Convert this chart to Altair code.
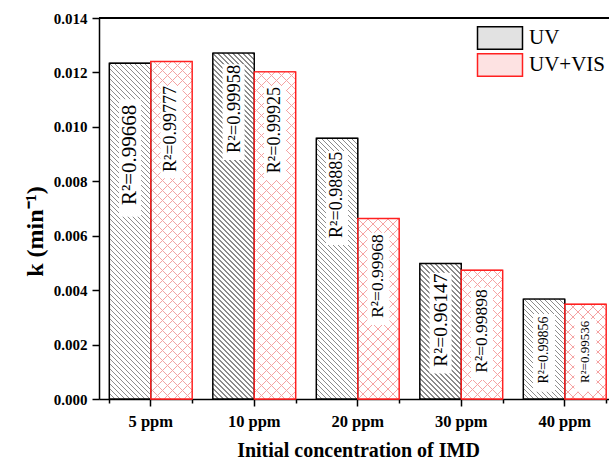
import altair as alt
import pandas as pd

# ---------------- data ----------------
conc = ["5 ppm", "10 ppm", "20 ppm", "30 ppm", "40 ppm"]
series = ["UV", "UV+VIS"]
k_uv = [0.01234, 0.01271, 0.00958, 0.00498, 0.00367]
k_vis = [0.01240, 0.01202, 0.00663, 0.00473, 0.00348]
r2_uv = ["0.99668", "0.99958", "0.98885", "0.96147", "0.99856"]
r2_vis = ["0.99777", "0.99925", "0.99968", "0.99898", "0.99536"]
# label centre and white label-box extent, in k units
lab_uv = [0.00897, 0.01066, 0.00750, 0.00290, 0.00180]
lab_vis = [0.00992, 0.00988, 0.00452, 0.00250, 0.00173]
box_hi_uv = [0.01101, 0.01230, 0.00911, 0.00464, 0.00312]
box_lo_uv = [0.00670, 0.00878, 0.00566, 0.00094, 0.00027]
box_hi_vis = [0.01150, 0.01150, 0.00611, 0.00409, 0.00294]
box_lo_vis = [0.00811, 0.00805, 0.00272, 0.00070, 0.00027]
fs_uv = [21, 18.5, 18, 19.5, 14]
fs_vis = [18, 18, 17.5, 17.5, 13]

rows = []
for i, c in enumerate(conc):
    rows.append(dict(conc=c, series="UV", k=k_uv[i], r2="R²=" + r2_uv[i],
                     lab=lab_uv[i], hi=box_hi_uv[i], lo=box_lo_uv[i], fs=fs_uv[i], idx=i))
    rows.append(dict(conc=c, series="UV+VIS", k=k_vis[i], r2="R²=" + r2_vis[i],
                     lab=lab_vis[i], hi=box_hi_vis[i], lo=box_lo_vis[i], fs=fs_vis[i], idx=i))
df = pd.DataFrame(rows)

# ---------------- layout ----------------
W, H = 510, 381
YMAX = 0.014
XR = 517.5                      # x range runs past the right edge (cut like the reference)
STEP = XR / 5
BARW = STEP * 0.8 / 2
SERIF = "Liberation Serif"

xenc = alt.X("conc:N", sort=conc,
             scale=alt.Scale(range=[0, XR], paddingInner=0.2, paddingOuter=0.1),
             axis=alt.Axis(title="Initial concentration of IMD", labelAngle=0,
                           labelFont=SERIF, labelFontWeight="bold", labelFontSize=16.5,
                           labelColor="black", labelPadding=7,
                           titleFont=SERIF, titleFontWeight="bold", titleFontSize=20,
                           titleColor="black", titlePadding=11, titleX=259,
                           tickSize=7, tickWidth=1.5, tickColor="black",
                           domainColor="black", domainWidth=1.5))
xoff = alt.XOffset("series:N", sort=series, scale=alt.Scale(paddingInner=0, paddingOuter=0))
yscale = alt.Scale(domain=[0, YMAX], nice=False)
yvals = [i / 1000 for i in range(0, 15)]
yenc = alt.Y("k:Q", scale=yscale,
             axis=alt.Axis(title="k (min⁻¹)", values=yvals,
                           labelExpr="round(datum.value*1000) % 2 ? '' : format(datum.value, '.3f')",
                           labelFont=SERIF, labelFontWeight="bold", labelFontSize=15,
                           labelColor="black", labelPadding=5,
                           titleFont=SERIF, titleFontWeight="bold", titleFontSize=24,
                           titleColor="black", titleX=-52, titleY=213,
                           tickSize={"condition": {"test": "round(datum.value*1000) % 2 == 1", "value": 4},
                                     "value": 7},
                           tickWidth=1.5, tickColor="black",
                           domainColor="black", domainWidth=1.5, grid=False))


def stripes(w, h, direction, period, lw, line, bg):
    L = w + h
    stops = []
    k = 0
    while k * period < L:
        a = k * period / L
        b = min((k * period + lw) / L, 1.0)
        stops += [{"offset": round(a, 5), "color": bg}, {"offset": round(a, 5), "color": line},
                  {"offset": round(b, 5), "color": line}, {"offset": round(b, 5), "color": bg}]
        k += 1
    stops.append({"offset": 1, "color": bg})
    c = L / (w * w + h * h)
    if direction == "back":
        x1, y1, x2, y2 = 0, 1, c * w, 1 - c * h
    else:
        x1, y1, x2, y2 = 0, 0, c * w, c * h
    return {"gradient": "linear", "stops": stops,
            "x1": x1, "y1": y1, "x2": round(x2, 6), "y2": round(y2, 6)}


base = alt.Chart(df)

# symbol path spans 4x2 units; sqrt(size)=22.5 -> 45 x 22.5 px rectangle
legend = alt.Legend(title=None, orient="none", legendX=389, legendY=8,
                    symbolType="M-2,-1H2V1H-2Z", symbolSize=506, symbolStrokeWidth=1.5,
                    labelFont=SERIF, labelFontSize=21, labelColor="black", labelOffset=17,
                    rowPadding=-3, padding=0)

bars = base.mark_bar().encode(
    x=xenc, xOffset=xoff, y=yenc,
    fill=alt.Fill("series:N", sort=series,
                  scale=alt.Scale(domain=series, range=["#e2e2e2", "#fde2e2"]), legend=legend),
    stroke=alt.Stroke("series:N", sort=series,
                      scale=alt.Scale(domain=series, range=["black", "#ff2020"]), legend=legend),
)

layers = [bars]
for i, c in enumerate(conc):
    for s, kv in (("UV", k_uv[i]), ("UV+VIS", k_vis[i])):
        h = kv / YMAX * H
        sub = base.transform_filter((alt.datum.conc == c) & (alt.datum.series == s))
        if s == "UV":
            g = stripes(BARW, h, "back", 5.0, 1.2, "#8c8c8c", "#ffffff")
            layers.append(sub.mark_bar(fill=g, strokeWidth=0).encode(x=xenc, xOffset=xoff, y=yenc))
        else:
            g1 = stripes(BARW, h, "back", 10, 1.1, "#f5a3a3", "#ffffff")
            g2 = stripes(BARW, h, "fwd", 10, 1.1, "#f5a3a3", "rgba(255,255,255,0)")
            layers.append(sub.mark_bar(fill=g1, strokeWidth=0).encode(x=xenc, xOffset=xoff, y=yenc))
            layers.append(sub.mark_bar(fill=g2, strokeWidth=0).encode(x=xenc, xOffset=xoff, y=yenc))

boxes = base.mark_bar(width=22, fill="white").encode(
    x=xenc, xOffset=xoff, y=alt.Y("hi:Q", scale=yscale), y2="lo:Q")
texts = base.mark_text(angle=270, font=SERIF, color="black", baseline="middle", align="center").encode(
    x=xenc, xOffset=xoff, y=alt.Y("lab:Q", scale=yscale), text="r2:N",
    size=alt.Size("fs:Q", scale=None))
outline = base.mark_bar(fillOpacity=0, strokeWidth=1.4).encode(
    x=xenc, xOffset=xoff, y=yenc,
    stroke=alt.Stroke("series:N", sort=series,
                      scale=alt.Scale(domain=series, range=["black", "#ff2020"]), legend=legend))
top = alt.Chart(df).mark_rule(color="black", strokeWidth=1.5).encode(
    x=alt.value(0), x2=alt.value(XR), y=alt.value(0))

layers += [boxes, texts, outline, top]
main = alt.layer(*layers)

minor = base.mark_bar(opacity=0).encode(
    x=alt.X("conc:N", sort=conc,
            axis=alt.Axis(title=None, labels=False, domain=False, tickBand="extent",
                          tickSize=4, tickWidth=1.5, tickColor="black", orient="bottom")),
    y=alt.Y("k:Q", scale=yscale, axis=None))

chart = alt.layer(main, minor).resolve_axis(x="independent", y="independent").properties(
    width=W, height=H,
    autosize=alt.AutoSizeParams(type="none"),
    padding={"left": 99, "top": 18, "right": 0, "bottom": 65},
).configure_view(stroke=None).configure(background="white")

chart.save("out.html", embed_options={"renderer": "svg", "actions": False})
